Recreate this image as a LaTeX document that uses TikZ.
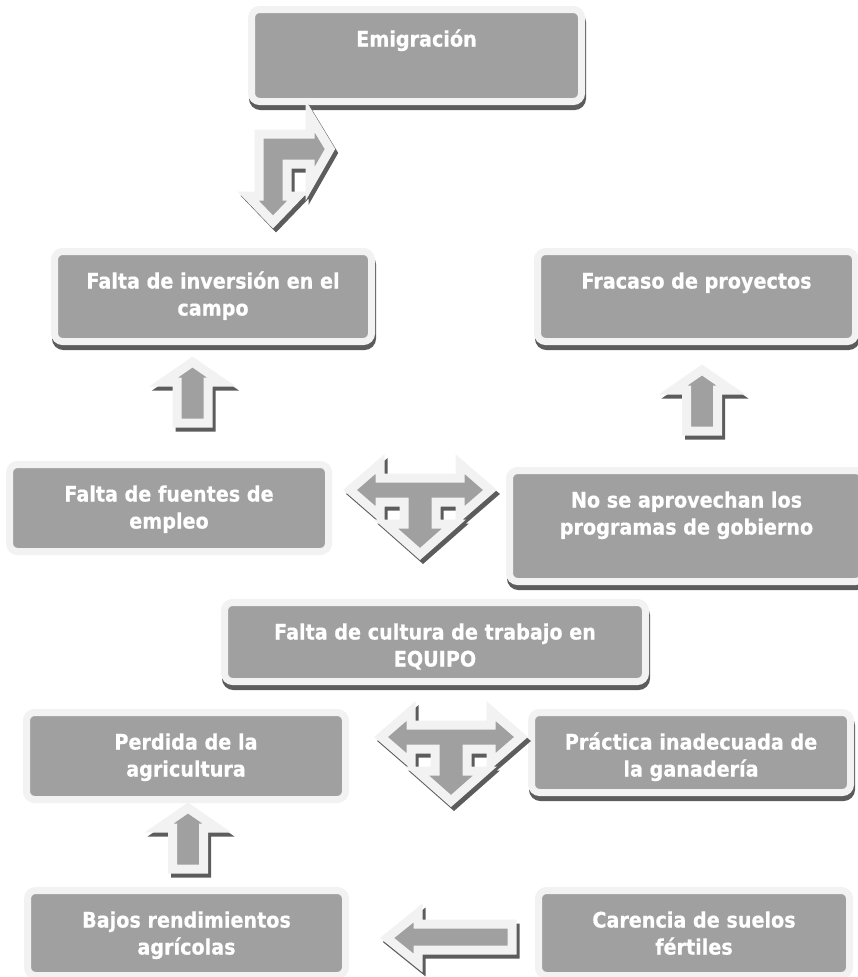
\documentclass[tikz,border=0pt]{standalone}
\usepackage{fontspec}
\setmainfont{DejaVu Sans}[FakeStretch=0.9,FakeBold=0.6]
\usepackage{xcolor}
\usetikzlibrary{calc}
\definecolor{boxgray}{HTML}{A0A0A0}
\definecolor{rimgray}{HTML}{F2F2F2}
\definecolor{shadegray}{HTML}{5C5C5C}
\newcommand{\boxtext}[3]{\parbox[c][#2pt][t]{#1pt}{\centering\rule{0pt}{37pt}#3}}

\begin{document}
\begin{tikzpicture}[x=1pt,y=-1pt,
		cbox/.style={rounded corners=8pt,fill=boxgray,draw=rimgray,line width=7pt,inner sep=0pt,text=white,font=\bfseries\fontsize{21.3}{27}\selectfont},
		shadowed/.style={preaction={fill=shadegray,draw=shadegray,line width=7pt,transform canvas={xshift=1pt,yshift=-5pt}}},
		blockarrow/.style={fill=boxgray,draw=rimgray,line width=9pt,line join=miter,preaction={fill=shadegray,draw=shadegray,line width=9pt,line join=miter,transform canvas={xshift=3pt,yshift=-4pt}}}]
		\useasboundingbox (0,0) rectangle (857,977);
		\newcommand{\tcontour}{(-70,0) (-40,-26) (-40,-12) (40,-12) (40,-26) (70,0) (40,26) (40,12) (16,12) (16,34) (34,34) (0,64) (-34,34) (-16,34) (-16,12) (-40,12) (-40,26)}
		\newcommand{\upcontour}{(0,0) (29,20) (15.5,20) (15.5,61) (-15.5,61) (-15.5,20) (-29,20)}

		% boxes
		\node[cbox,shadowed] (emig) at (416.5,55.5) {\boxtext{330}{92}{Emigración}};
		\node[cbox,shadowed] (inver) at (213,296.5) {\boxtext{317}{90}{Falta de inversión en el\\campo}};
		\node[cbox,shadowed] (fracaso) at (696.5,296.5) {\boxtext{318}{90}{Fracaso de proyectos}};
		\node[cbox] (fuentes) at (169,508) {\boxtext{319}{87}{Falta de fuentes de\\empleo}};
		\node[cbox,shadowed] (aprov) at (686.5,526) {\boxtext{354}{111}{No se aprovechan los\\programas de gobierno}};
		\node[cbox,shadowed] (cultura) at (435,642) {\boxtext{421}{79}{Falta de cultura de trabajo en\\EQUIPO}};
		\node[cbox] (perdida) at (186,756) {\boxtext{319}{87}{Perdida de la\\agricultura}};
		\node[cbox,shadowed] (practica) at (691,752.5) {\boxtext{319}{80}{Práctica inadecuada de\\la ganadería}};
		\node[cbox] (bajos) at (186.5,933) {\boxtext{318}{85}{Bajos rendimientos\\agrícolas}};
		\node[cbox] (carencia) at (694,933) {\boxtext{311}{85}{Carencia de suelos\\fértiles}};

		% block arrows
		\filldraw[blockarrow] (259,134) -- (310,134) -- (310,116) -- (330,149) -- (310,184) -- (310,164) -- (287,164) -- (287,196) -- (298,196) -- (273,222) -- (248,196) -- (259,196) -- cycle;
		\begin{scope}[shift={(192.5,362)}]
			\filldraw[blockarrow] plot coordinates{\upcontour} -- cycle;
		\end{scope}
		\begin{scope}[shift={(702,370)}]
			\filldraw[blockarrow] plot coordinates{\upcontour} -- cycle;
		\end{scope}
		\begin{scope}[shift={(420,490)}]
			\filldraw[blockarrow] plot coordinates{\tcontour} -- cycle;
		\end{scope}
		\begin{scope}[shift={(451,737)}]
			\filldraw[blockarrow] plot coordinates{\tcontour} -- cycle;
		\end{scope}
		\begin{scope}[shift={(188,808)}]
			\filldraw[blockarrow] plot coordinates{\upcontour} -- cycle;
		\end{scope}
		\filldraw[blockarrow] (387,938) -- (418,913) -- (418,924) -- (512,924) -- (512,950) -- (418,950) -- (418,963) -- cycle;
	\end{tikzpicture}
\end{document}
